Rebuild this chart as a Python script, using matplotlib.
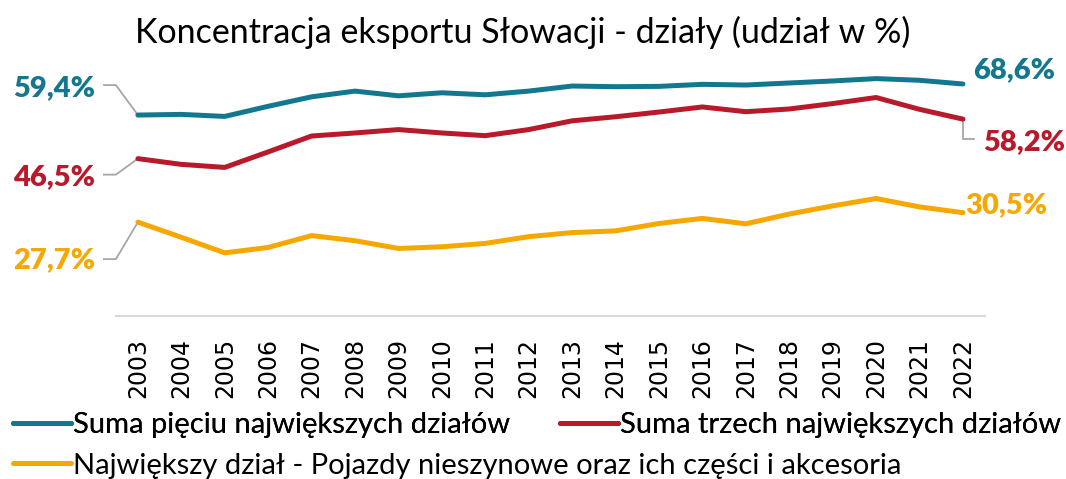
import numpy as np
import matplotlib
matplotlib.use('Agg')
import matplotlib.pyplot as plt
from matplotlib.lines import Line2D

# data (% share of exports)
years = [str(y) for y in range(2003, 2023)]
top5 = [59.4, 59.6, 59.0, 62.0, 64.8, 66.5, 65.1, 66.0, 65.4, 66.5,
        68.0, 67.8, 67.9, 68.5, 68.3, 68.9, 69.5, 70.2, 69.7, 68.6]
top3 = [46.5, 44.8, 43.9, 48.5, 53.2, 54.1, 55.1, 54.1, 53.3, 55.1,
        57.7, 58.9, 60.3, 61.8, 60.4, 61.2, 62.8, 64.6, 61.1, 58.2]
top1 = [27.7, 23.2, 18.6, 20.2, 23.7, 22.2, 19.9, 20.4, 21.4, 23.4,
        24.6, 25.1, 27.3, 28.8, 27.2, 30.1, 32.5, 34.7, 32.2, 30.5]
names = ["Suma pięciu największych działów",
         "Suma trzech największych działów",
         "Największy dział - Pojazdy nieszynowe oraz ich części i akcesoria"]
title = "Koncentracja eksportu Słowacji - działy (udział w %)"

c_blue = '#13778f'
c_red = '#b8192b'
c_yel = '#f7a800'
c_lead = '#a6a6a6'
FONT = 'Lato'

fig = plt.figure(figsize=(10.66, 4.79), dpi=100)
ax = fig.add_axes([0.109, 0.341, 0.8147, 0.564])

x = np.arange(len(years))
series = [(top5, c_blue), (top3, c_red), (top1, c_yel)]
for vals, col in series:
    ax.plot(x, vals, color=col, lw=3.6, solid_capstyle='round', zorder=3)

ax.set_xlim(-0.5, len(years) - 0.5)
ax.set_ylim(0, 80)
ax.set_yticks([])
ax.set_xticks(x)
ax.set_xticklabels(years, rotation=90, fontsize=17, family='DejaVu Sans')
ax.tick_params(axis='x', length=0, pad=16)
for s in ['top', 'right', 'left']:
    ax.spines[s].set_visible(False)
ax.spines['bottom'].set_color('#d9d9d9')
ax.spines['bottom'].set_linewidth(1.5)

def px(p):
    return p * 0.72

def leader(i, v, pts):
    # polyline in pixel offsets from the data point
    trans = ax.transData
    x0, y0 = trans.transform((i, v))
    inv = trans.inverted()
    xy = [inv.transform((x0 + dx, y0 + dy)) for dx, dy in pts]
    xs, ys = zip(*xy)
    ax.plot(xs, ys, color=c_lead, lw=1.3, zorder=2, clip_on=False)

def label(i, v, txt, col, dx, dy, ha):
    ax.annotate(txt, xy=(i, v), xytext=(px(dx), px(dy)), textcoords='offset points',
                ha=ha, va='center', color=col, fontsize=21, fontweight='heavy',
                family=FONT, annotation_clip=False)

def fmt(v):
    return ("%.1f%%" % v).replace('.', ',')

last = len(years) - 1
# start labels
leader(0, top5[0], [(0, 0), (-22, 30), (-34, 30)])
label(0, top5[0], fmt(top5[0]), c_blue, -43, 27, 'right')
leader(0, top3[0], [(0, 0), (-22, -16), (-34, -16)])
label(0, top3[0], fmt(top3[0]), c_red, -43, -18, 'right')
leader(0, top1[0], [(0, 0), (-22, -37), (-34, -37)])
label(0, top1[0], fmt(top1[0]), c_yel, -43, -38, 'right')
# end labels
label(last, top5[last], fmt(top5[last]), c_blue, 10, 14, 'left')
leader(last, top3[last], [(0, 0), (0, -20), (11, -20)])
label(last, top3[last], fmt(top3[last]), c_red, 20, -23, 'left')
label(last, top1[last], fmt(top1[last]), c_yel, 2, 8, 'left')

fig.text(0.49, 0.933, title, ha='center', va='center', fontsize=24.5, family=FONT)

handles = [Line2D([], [], color=c, lw=3.6, solid_capstyle='round') for _, c in series]
leg1 = fig.legend(handles[:2], names[:2], loc='center left', bbox_to_anchor=(0.012, 0.113),
                  ncol=2, frameon=False, handlelength=2.0, handletextpad=0.07,
                  columnspacing=1.7, borderaxespad=0, borderpad=0,
                  prop={'family': FONT, 'size': 21})
fig.add_artist(leg1)
leg2 = fig.legend(handles[2:], names[2:], loc='center left', bbox_to_anchor=(0.012, 0.028),
                  frameon=False, handlelength=2.0, handletextpad=0.07,
                  borderaxespad=0, borderpad=0, prop={'family': FONT, 'size': 21})

fig.savefig('out.png', dpi=100)
